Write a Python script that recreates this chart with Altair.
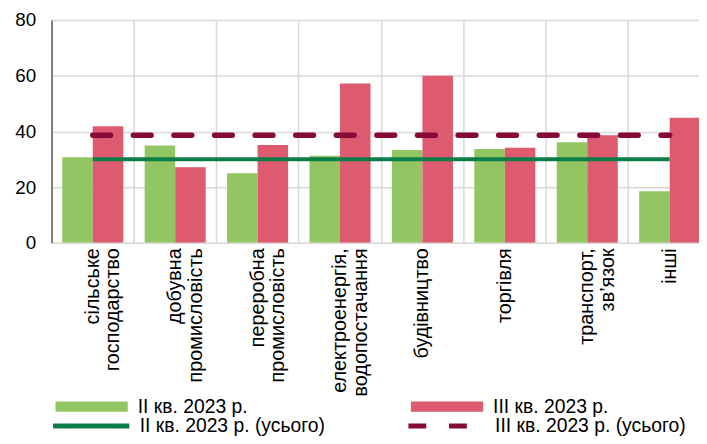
import altair as alt
import pandas as pd

categories = [
    "сільське|господарство",
    "добувна|промисловість",
    "переробна|промисловість",
    "електроенергія,|водопостачання",
    "будівництво",
    "торгівля",
    "транспорт,|зв’язок",
    "інші",
]
q2_values = [30.7, 34.9, 25.0, 31.3, 33.3, 33.7, 36.1, 18.5]
q3_values = [41.9, 27.1, 35.1, 57.2, 60.0, 34.1, 38.6, 44.9]
q2_total = 30.0
q3_total = 38.6
bar_series = ["II кв. 2023 р.", "III кв. 2023 р."]
line_series = ["II кв. 2023 р. (усього)", "III кв. 2023 р. (усього)"]
y_ticks = [0, 20, 40, 60, 80]

bar_colors = ["#92C662", "#DE5A6F"]
line_colors = ["#0B7E48", "#860A38"]

bars_df = pd.DataFrame(
    [{"category": c, "series": bar_series[0], "value": v} for c, v in zip(categories, q2_values)]
    + [{"category": c, "series": bar_series[1], "value": v} for c, v in zip(categories, q3_values)]
)
lines_df = pd.DataFrame(
    [{"category": c, "series": line_series[0], "value": q2_total} for c in categories]
    + [{"category": c, "series": line_series[1], "value": q3_total} for c in categories]
)

FONT = "Liberation Sans"
TXT = 19.5

x_enc = alt.X(
    "category:N",
    sort=categories,
    scale=alt.Scale(paddingInner=0, paddingOuter=0, range=[0, 666]),
    axis=alt.Axis(
        title=None,
        labelAngle=-90,
        labelAlign="right",
        labelBaseline="middle",
        labelExpr="split(datum.label, '|')",
        labelFontSize=20,
        labelLineHeight=21,
        labelPadding=5,
        labelColor="black",
        labelFont=FONT,
        labelLimit=300,
        grid=True,
        gridColor="#d9d9d9",
        gridWidth=1.5,
        bandPosition=0,
        ticks=False,
        domain=False,
    ),
)
y_enc = alt.Y(
    "value:Q",
    scale=alt.Scale(domain=[0, 80], nice=False),
    axis=alt.Axis(
        title=None,
        values=y_ticks,
        ticks=False,
        labelPadding=16,
        labelFontSize=19,
        labelFont=FONT,
        labelColor="black",
        grid=True,
        gridColor="#d9d9d9",
        gridWidth=1.5,
        domainColor="#5f5f5f",
        domainWidth=1.5,
    ),
)

bars = (
    alt.Chart(bars_df)
    .mark_bar(clip=True)
    .encode(
        x=x_enc,
        y=y_enc,
        xOffset=alt.XOffset(
            "series:N",
            sort=bar_series,
            scale=alt.Scale(paddingInner=0, paddingOuter=0.35),
        ),
        fill=alt.Fill(
            "series:N",
            scale=alt.Scale(domain=bar_series, range=bar_colors),
            legend=alt.Legend(
                title=None,
                orient="none",
                legendX=4,
                legendY=354,
                direction="horizontal",
                columns=2,
                symbolType="M-1,-0.14H1V0.14H-1Z",
                symbolSize=5329,
                symbolStrokeWidth=0,
                labelFontSize=TXT,
                labelFont=FONT,
                labelColor="black",
                labelOffset=10,
                labelLimit=300,
                columnPadding=164,
            ),
        ),
    )
)

line_legend = alt.Legend(
    title=None,
    orient="none",
    legendX=-1,
    legendY=369,
    direction="horizontal",
    columns=2,
    symbolType="stroke",
    symbolSize=5929,
    symbolStrokeWidth=5,
    labelFontSize=TXT,
    labelFont=FONT,
    labelColor="black",
    labelOffset=8,
    labelLimit=300,
    columnPadding=73,
)

line_base = alt.Chart(lines_df).encode(
    x=alt.X("category:N", sort=categories),
    y=alt.Y("value:Q"),
    stroke=alt.Stroke(
        "series:N",
        scale=alt.Scale(domain=line_series, range=line_colors),
        legend=line_legend,
    ),
    strokeDash=alt.StrokeDash(
        "series:N",
        scale=alt.Scale(domain=line_series, range=[[1, 0], [18, 23]]),
        legend=line_legend,
    ),
)

line_q2 = line_base.transform_filter(alt.datum.series == line_series[0]).mark_line(strokeWidth=4)
line_q3 = line_base.transform_filter(alt.datum.series == line_series[1]).mark_line(
    strokeWidth=5.5, strokeCap="round"
)

chart = (
    alt.layer(bars, line_q2, line_q3)
    .properties(
        width=654,
        height=225,
        autosize=alt.AutoSizeParams(type="none"),
        padding={"left": 44, "top": 10, "right": 0, "bottom": 193},
    )
    .configure_view(stroke="#5f5f5f", strokeWidth=1.5)
    .configure(font=FONT)
)

chart.save("out.html", embed_options={"renderer": "svg", "actions": False})
